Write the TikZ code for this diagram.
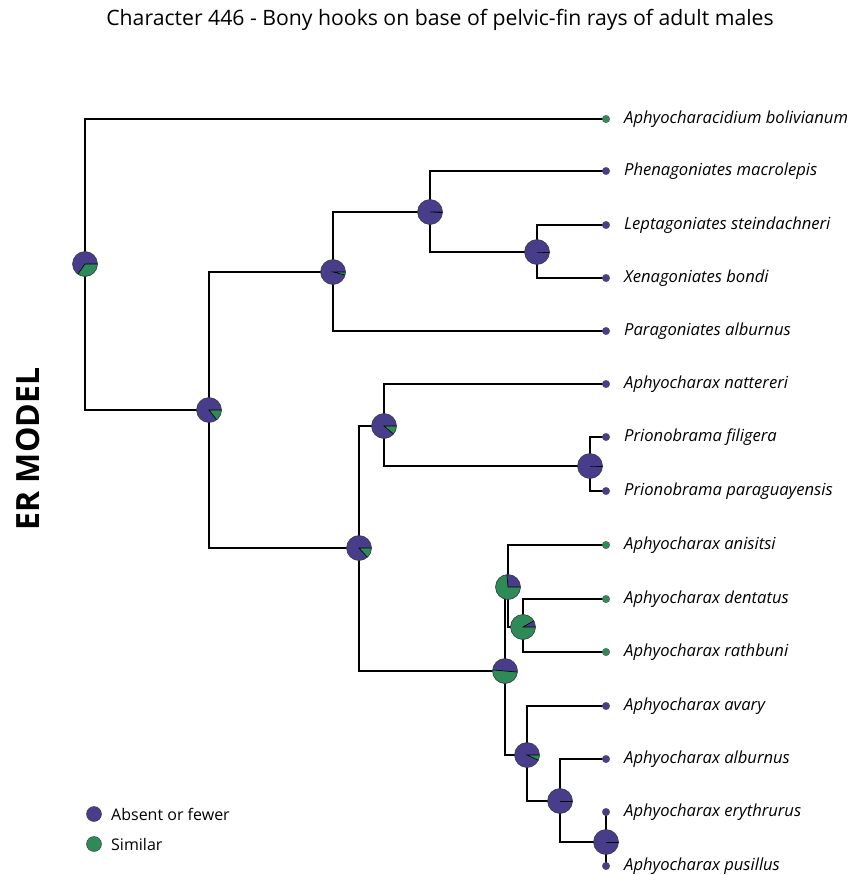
\documentclass[tikz,border=0pt]{standalone}
\usepackage{fontspec}
\setmainfont{Open Sans}
\definecolor{pur}{RGB}{72,61,139}
\definecolor{grn}{RGB}{46,139,87}
\tikzset{
  branch/.style={line width=1.1pt, black},
  tiplabel/.style={anchor=west, font=\fontsize{16.6}{19}\selectfont\itshape, inner sep=0pt},
  tipdot/.style={circle, fill=pur, draw=black!70, line width=0.3pt, minimum size=7.5pt, inner sep=0pt},
  legdot/.style={circle, draw=black!80, line width=0.4pt, minimum size=15pt, inner sep=0pt},
  legtext/.style={anchor=west, font=\fontsize{16}{19}\selectfont, inner sep=0pt},
  pienode/.style={circle, minimum size=25pt, inner sep=0pt}
}
% \pienode{name}{x}{y}{green start}{green end} (tikz angles, y flipped)
\newcommand\pienode[5]{%
  \node[pienode] (#1) at (#2,#3) {};
  \fill[pur] (#2,#3) circle[radius=12.5];
  \fill[grn] (#2,#3) -- ++(#4:12.5) arc[start angle=#4, end angle=#5, radius=12.5] -- cycle;
  \draw[black, line width=0.6pt] ($(#2,#3)+(#4:12.5)$) -- (#2,#3) -- ($(#2,#3)+(#5:12.5)$);
  \draw[black!80, line width=0.5pt] (#2,#3) circle[radius=12.5];
}
\usetikzlibrary{calc}
\begin{document}
\begin{tikzpicture}[x=1pt,y=-1pt]
\useasboundingbox (0,0) rectangle (851,875);
% title
\node[font=\fontsize{21.2}{25}\selectfont] (title) at (440,20) {Character 446 - Bony hooks on base of pelvic-fin rays of adult males};
\node[rotate=90, font=\fontsize{32}{36}\selectfont\bfseries] (model) at (28,449) {ER MODEL};
% tips
\foreach \n/\y/\t in {t1/119/Aphyocharacidium bolivianum, t2/171/Phenagoniates macrolepis, t3/225/Leptagoniates steindachneri, t4/278/Xenagoniates bondi, t5/331/Paragoniates alburnus, t6/384/Aphyocharax nattereri, t7/437/Prionobrama filigera, t8/491/Prionobrama paraguayensis, t9/545/Aphyocharax anisitsi, t10/599/Aphyocharax dentatus, t11/652/Aphyocharax rathbuni, t12/706/Aphyocharax avary, t13/759/Aphyocharax alburnus, t14/812/Aphyocharax erythrurus, t15/866/Aphyocharax pusillus}{
  \coordinate (\n) at (606,\y);
  \node[tiplabel] (\n l) at (624,\y) {\t};
}
% internal node coordinates
\coordinate (R) at (85,264);
\coordinate (A) at (209,410);
\coordinate (B) at (333,272);
\coordinate (D) at (430,212);
\coordinate (E) at (537,252);
\coordinate (C) at (359,548);
\coordinate (F) at (384,426);
\coordinate (H) at (590,466);
\coordinate (G) at (505,671);
\coordinate (I) at (508,587);
\coordinate (K) at (523,627);
\coordinate (J) at (527,755);
\coordinate (L) at (560,801);
\coordinate (M) at (606,842);
% branches
\draw[branch] (t1) -| (R) |- (A);
\draw[branch] (B) -| (A) |- (C);
\draw[branch] (D) -| (B) |- (t5);
\draw[branch] (t2) -| (D) |- (E);
\draw[branch] (t3) -| (E) |- (t4);
\draw[branch] (F) -| (C) |- (G);
\draw[branch] (t6) -| (F) |- (H);
\draw[branch] (t7) -| (H) |- (t8);
\draw[branch] (I) -| (G) |- (J);
\draw[branch] (t9) -| (I) |- (K);
\draw[branch] (t10) -| (K) |- (t11);
\draw[branch] (t12) -| (J) |- (L);
\draw[branch] (t13) -| (L) |- (M);
\draw[branch] (t14) -- (M) -- (t15);
% tip dots
\foreach \n/\c in {t1/grn,t2/pur,t3/pur,t4/pur,t5/pur,t6/pur,t7/pur,t8/pur,t9/grn,t10/grn,t11/grn,t12/pur,t13/pur,t14/pur,t15/pur}{
  \node[tipdot, fill=\c] (\n d) at (\n) {};
}
% pies
\pienode{pR}{85}{264}{0}{125}
\pienode{pA}{209}{410}{0}{52}
\pienode{pB}{333}{272}{0}{14}
\pienode{pD}{430}{212}{0}{3}
\pienode{pE}{537}{252}{0}{0}
\pienode{pC}{359}{548}{0}{48}
\pienode{pF}{384}{426}{0}{40}
\pienode{pH}{590}{466}{0}{0}
\pienode{pG}{505}{671}{5}{185}
\pienode{pI}{508}{587}{0}{265}
\pienode{pK}{523}{627}{0}{330}
\pienode{pJ}{527}{755}{0}{25}
\pienode{pL}{560}{801}{0}{0}
\pienode{pM}{606}{842}{0}{0}
% legend
\node[legdot, fill=pur] (l1) at (94,814) {};
\node[legdot, fill=grn] (l2) at (94,844) {};
\node[legtext] (l1t) at (111,814) {Absent or fewer};
\node[legtext] (l2t) at (111,844) {Similar};
\end{tikzpicture}
\end{document}
